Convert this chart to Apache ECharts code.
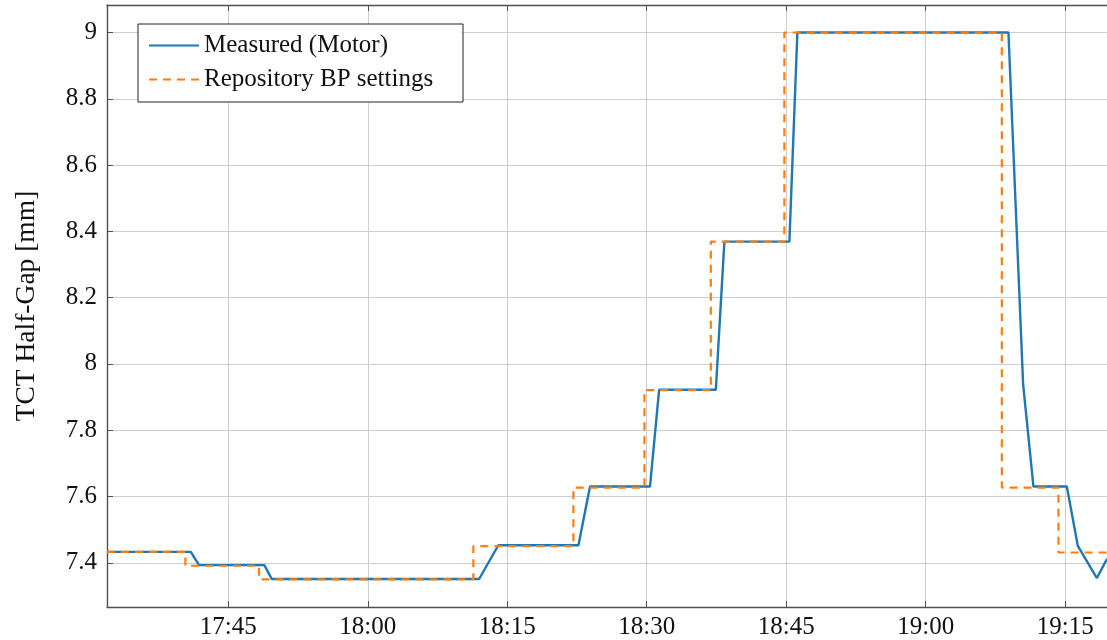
<!DOCTYPE html>
<html>
<head>
<meta charset="utf-8">
<script src="https://cdn.jsdelivr.net/npm/echarts@6/dist/echarts.min.js"></script>
<style>
html,body{margin:0;padding:0;background:#fff;}
#chart{width:1107px;height:640px;}
</style>
</head>
<body>
<div id="chart"></div>
<script>
// Times are minutes since midnight (e.g. 1065 = 17:45)
const measuredTimes = [1051.95, 1060.96, 1061.85, 1068.87, 1069.67, 1091.97, 1094.04, 1102.65, 1103.9, 1110.35, 1111.33, 1117.43, 1118.35, 1125.34, 1126.2, 1148.9, 1150.48, 1151.59, 1155.18, 1156.36, 1158.41, 1159.5];
const measuredValues = [7.433, 7.433, 7.393, 7.393, 7.351, 7.351, 7.453, 7.453, 7.630, 7.630, 7.922, 7.922, 8.369, 8.369, 9.0, 9.0, 7.938, 7.630, 7.630, 7.451, 7.354, 7.412];

const settingTimes = [1051.95, 1060.38, 1068.30, 1091.35, 1102.11, 1109.75, 1116.89, 1124.80, 1148.19, 1154.28, 1159.5];
const settingValues = [7.433, 7.391, 7.350, 7.450, 7.627, 7.921, 8.369, 9.0, 7.627, 7.431, 7.431];

const seriesNames = ['Measured (Motor)', 'Repository BP settings'];
const yAxisTitle = 'TCT Half-Gap [mm]';

const xMin = 1051.95, xMax = 1159.5, xStep = 15;
const yMin = 7.2666, yMax = 9.083, yStep = 0.2;

function fmtTime(v){
  const h = Math.floor(v / 60);
  const m = Math.round(v - h * 60);
  return h + ':' + (m < 10 ? '0' + m : m);
}
const measured = measuredTimes.map((t, i) => [t, measuredValues[i]]);
const setting = settingTimes.map((t, i) => [t, settingValues[i]]);

const font = 'Liberation Serif';
const axisColor = '#505050';
const gridColor = '#cecece';

const chart = echarts.init(document.getElementById('chart'), null, {renderer: 'canvas'});
chart.setOption({
  animation: false,
  backgroundColor: '#fff',
  textStyle: {fontFamily: font},
  grid: {left: 107, top: 5, right: 0, bottom: 32, containLabel: false},
  legend: {
    orient: 'vertical',
    left: 138, top: 24,
    padding: [9, 9, 10, 10],
    itemWidth: 50, itemHeight: 20, itemGap: 9,
    borderColor: '#222', borderWidth: 1, borderRadius: 0,
    backgroundColor: '#fff',
    itemStyle: {opacity: 0},
    textStyle: {fontFamily: font, fontSize: 25, color: '#111', lineHeight: 24, width: 250},
    data: seriesNames
  },
  xAxis: [{
    type: 'value', min: xMin, max: xMax, minInterval: xStep, maxInterval: xStep,
    position: 'bottom',
    axisLine: {show: true, lineStyle: {color: axisColor, width: 1.4}},
    axisTick: {show: true, inside: true, length: 6, lineStyle: {color: axisColor}},
    axisLabel: {formatter: fmtTime, fontFamily: font, fontSize: 25, color: '#111', margin: 8, showMinLabel: false, showMaxLabel: false},
    splitLine: {show: true, lineStyle: {color: gridColor, width: 1}}
  }, {
    type: 'value', min: xMin, max: xMax, minInterval: xStep, maxInterval: xStep,
    position: 'top',
    axisLine: {show: true, lineStyle: {color: axisColor, width: 1.4}},
    axisTick: {show: true, inside: true, length: 6, lineStyle: {color: axisColor}},
    axisLabel: {show: false},
    splitLine: {show: false}
  }],
  yAxis: {
    type: 'value', min: yMin, max: yMax, minInterval: yStep, maxInterval: yStep,
    name: yAxisTitle, nameLocation: 'middle', nameGap: 66,
    nameTextStyle: {fontFamily: font, fontSize: 27.5, color: '#111'},
    axisLine: {show: true, lineStyle: {color: axisColor, width: 1.4}},
    axisTick: {show: true, inside: true, length: 6, lineStyle: {color: axisColor}},
    axisLabel: {fontFamily: font, fontSize: 25, color: '#111', margin: 10, showMinLabel: false, showMaxLabel: false},
    splitLine: {show: true, lineStyle: {color: gridColor, width: 1}}
  },
  series: [{
    name: seriesNames[0], type: 'line', data: measured,
    symbol: 'none', lineStyle: {color: '#1f77b4', width: 2.4},
    itemStyle: {color: '#1f77b4'}
  }, {
    name: seriesNames[1], type: 'line', data: setting, step: 'end',
    symbol: 'none', lineStyle: {color: '#ff7f0e', width: 2.2, type: [8, 6]},
    itemStyle: {color: '#ff7f0e'}
  }]
});
</script>
</body>
</html>
